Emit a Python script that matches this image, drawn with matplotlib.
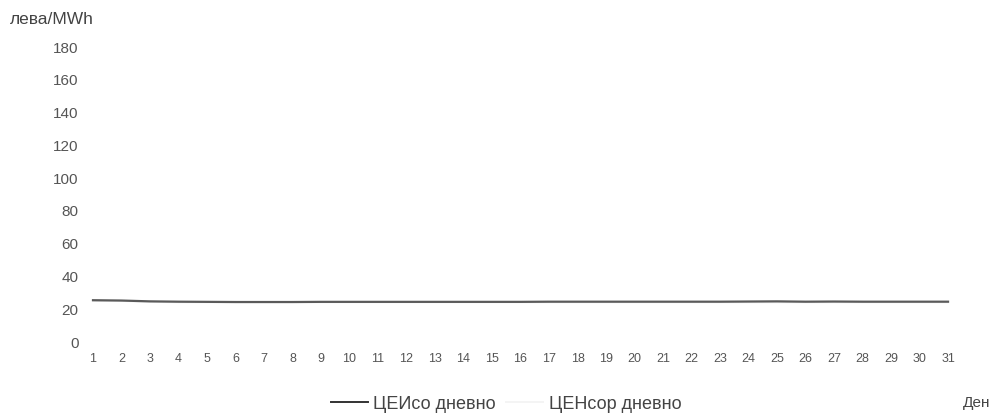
import numpy as np
import matplotlib
matplotlib.use("Agg")
import matplotlib.pyplot as plt
from matplotlib.lines import Line2D

days = list(range(1, 32))
day_labels = [str(d) for d in days]
# ЦЕИсо дневно (лева/MWh)
ceiso = [25.5, 25.3, 24.8, 24.6, 24.5, 24.4, 24.4, 24.4, 24.5, 24.5, 24.5, 24.5,
         24.5, 24.5, 24.5, 24.5, 24.6, 24.6, 24.6, 24.6, 24.6, 24.6, 24.6, 24.7,
         24.8, 24.6, 24.7, 24.6, 24.6, 24.6, 24.6]
# ЦЕНсор дневно
censor = [25.0, 25.0, 24.4, 24.2, 24.2, 24.2, 24.2, 24.2, 24.2, 24.2, 24.2, 24.2,
          24.2, 24.2, 24.2, 24.2, 24.2, 24.2, 24.2, 24.2, 24.2, 24.2, 24.2, 24.2,
          24.2, 24.2, 24.2, 24.2, 24.2, 24.2, 24.2]
yticks = [0, 20, 40, 60, 80, 100, 120, 140, 160, 180]

plt.rcParams['font.family'] = ['Liberation Sans', 'DejaVu Sans']

W, H = 997, 415
fig = plt.figure(figsize=(W / 100, H / 100), dpi=100)
left, right, top, bottom = 80, 960, 40, 345
ax = fig.add_axes([left / W, (H - bottom) / H, (right - left) / W, (bottom - top) / H])

ax.plot(days, censor, color='#eeeeee', lw=1.2)
ax.plot(days, ceiso, color='#5a5a5a', lw=1.6)

ax.set_xlim(0.544, 31.42)
ax.set_ylim(-1.83, 184.3)
ax.set_xticks(days)
ax.set_xticklabels(day_labels)
ax.set_yticks(yticks)
ax.tick_params(axis='x', length=0, pad=6, labelsize=9, labelcolor='#555555')
ax.tick_params(axis='y', length=0, pad=1, labelsize=11, labelcolor='#555555')
for s in ax.spines.values():
    s.set_visible(False)

fig.text(10 / W, 1 - 20 / H, 'лева/MWh', fontsize=12.5, color='#444444',
         ha='left', va='center')
fig.text(990 / W, 1 - 403 / H, 'Ден', fontsize=11, color='#444444',
         ha='right', va='center')

handles = [Line2D([], [], color='#333333', lw=1.4),
           Line2D([], [], color='#f4f4f4', lw=1.4)]
fig.legend(handles, ['ЦЕИсо дневно', 'ЦЕНсор дневно'], loc='center',
           bbox_to_anchor=(506 / W, 1 - 404 / H), ncol=2, frameon=False,
           fontsize=13, labelcolor='#444444', handlelength=2.05,
           handletextpad=0.3, columnspacing=0.6, borderpad=0)

fig.savefig('out.png', dpi=100)
